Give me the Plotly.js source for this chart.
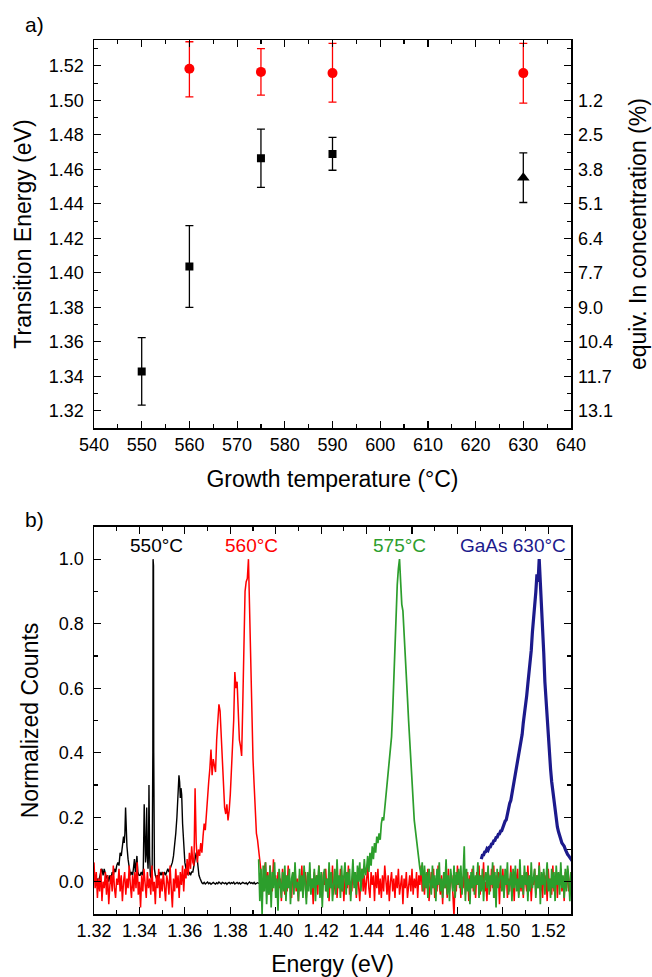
<!DOCTYPE html>
<html>
<head>
<meta charset="utf-8">
<script src="https://cdn.plot.ly/plotly-3.0.1.min.js"></script>
<style>html,body{margin:0;padding:0;background:#fff;}#chart{width:652px;height:977px;}</style>
</head>
<body>
<div id="chart"></div>
<script>
// ---------- Panel a) data ----------
const sqTemp = [550, 560, 575, 590];
const sqEnergy = [1.3428, 1.4037, 1.4664, 1.4689];
const sqErrPlus = [0.0197, 0.0237, 0.0169, 0.0097];
const sqErrMinus = [0.0195, 0.0237, 0.0168, 0.0094];

const triTemp = [630];
const triEnergy = [1.4552];
const triErr = [0.0144];

const gaasTemp = [560, 575, 590, 630];
const gaasEnergy = [1.5183, 1.5165, 1.5158, 1.5158];
const gaasErrPlus = [0.0157, 0.0135, 0.0172, 0.0172];
const gaasErrMinus = [0.0163, 0.0135, 0.0168, 0.0174];

const concTickVals = [1.32, 1.34, 1.36, 1.38, 1.40, 1.42, 1.44, 1.46, 1.48, 1.50, 1.52];
const concTickText = ['13.1', '11.7', '10.4', '9.0', '7.7', '6.4', '5.1', '3.8', '2.5', '1.2', ''];

// ---------- Panel b) data (normalized PL spectra) ----------
// 550°C (explicit energy / counts pairs)
const s550E = [1.3200,1.3205,1.3210,1.3215,1.3220,1.3225,1.3230,1.3235,1.3240,1.3245,1.3250,1.3255,1.3260,1.3265,1.3270,1.3275,1.3280,1.3285,1.3290,1.3295,
 1.3300,1.3305,1.3310,1.3315,1.3320,1.3325,1.3330,1.3333,1.3336,1.3339,1.3342,1.3345,1.3350,1.3355,1.3360,1.3365,1.3370,1.3375,1.3378,1.3382,
 1.3386,1.3389,1.3393,1.3398,1.3403,1.3408,1.3413,1.3417,1.3421,1.3424,1.3427,1.3430,1.3432,1.3435,1.3438,1.3440,1.3442,1.3445,1.3448,1.3452,
 1.3456,1.3459,1.3460,1.3461,1.3462,1.3463,1.3466,1.3470,1.3475,1.3480,1.3485,1.3490,1.3495,1.3500,1.3505,1.3510,1.3515,1.3520,1.3525,1.3530,1.3535,
 1.3540,1.3545,1.3550,1.3555,1.3560,1.3565,1.3570,1.3574,1.3577,1.3580,1.3583,1.3586,1.3590,1.3595,1.3600,1.3605,1.3610,1.3615,1.3620,1.3625,
 1.3630,1.3635,1.3640,1.3645,1.3650,1.3653,1.3657,1.3662,1.3667,1.3672];
const s550Y = [0.00,0.01,-0.01,0.01,0.00,0.02,0.03,0.04,0.02,0.04,0.02,0.01,0.02,0.00,0.02,0.01,0.03,0.02,0.04,0.03,
 0.05,0.06,0.05,0.09,0.08,0.11,0.14,0.12,0.15,0.23,0.14,0.11,0.07,0.04,0.02,0.03,0.02,0.05,0.07,0.03,
 0.05,0.08,0.03,0.02,0.02,0.03,0.02,0.04,0.24,0.12,0.06,0.10,0.23,0.08,0.04,0.10,0.30,0.08,0.02,0.01,
 0.03,0.40,1.00,0.45,0.98,0.40,0.04,0.02,0.01,0.02,0.01,0.03,0.02,0.03,0.02,0.03,0.02,0.03,0.04,0.03,0.04,
 0.05,0.06,0.08,0.11,0.15,0.20,0.27,0.33,0.31,0.26,0.29,0.27,0.18,0.10,0.06,0.04,0.03,0.02,0.03,0.02,
 0.03,0.03,0.05,0.07,0.09,0.08,0.04,0.02,0.01,0.00];
// 550°C flat tail on a regular energy grid
const s550TailStart = 1.3675, s550TailStep = 0.0005;
const s550TailY = [-0.003,-0.006,-0.002,-0.007,-0.004,-0.001,-0.006,-0.003,-0.008,-0.004,
 -0.002,-0.005,-0.007,-0.003,-0.006,-0.001,-0.004,-0.007,-0.002,-0.005,
 -0.006,-0.003,-0.008,-0.004,-0.002,-0.006,-0.003,-0.005,-0.001,-0.007,
 -0.004,-0.002,-0.006,-0.003,-0.007,-0.005,-0.002,-0.004,-0.006,-0.003,
 -0.008,-0.004,-0.001,-0.005,-0.003,-0.006,-0.002,-0.007,-0.004,-0.003,-0.005,-0.004];

// 560°C on a regular energy grid
const s560Start = 1.3200, s560Step = 0.0005;
const s560Y = [
 0.06,-0.02,0.03,-0.05,0.01,-0.03,0.04,-0.06,0.00,-0.02,
 0.03,-0.04,0.02,-0.07,-0.01,0.02,-0.03,0.05,-0.02,-0.05,
 0.01,-0.01,0.04,-0.03,0.02,-0.06,0.00,0.03,-0.04,0.01,
 -0.02,0.05,-0.01,-0.05,0.02,-0.03,0.03,-0.02,0.06,-0.04,
 0.00,-0.08,0.02,-0.03,0.04,-0.01,-0.05,0.03,-0.02,0.01,
 -0.04,0.05,-0.03,0.00,-0.07,0.02,-0.02,0.04,-0.05,0.01,
 -0.03,0.03,-0.01,-0.06,0.02,0.00,-0.04,0.05,-0.02,-0.08,
 0.01,-0.03,0.04,-0.02,0.02,-0.05,0.03,-0.01,0.05,-0.03,
 0.04,0.01,0.07,0.02,0.09,0.04,0.11,0.06,
 0.05,0.29,0.12,0.06,0.10,0.08,0.12,0.09,0.14,0.18,
 0.16,0.22,0.26,0.31,0.35,0.41,0.33,0.38,0.36,0.34,
 0.44,0.51,0.55,0.53,0.45,0.36,0.28,0.23,0.21,0.24,
 0.19,0.22,0.27,0.35,0.40,0.50,0.65,0.60,0.62,0.50,
 0.44,0.42,0.39,0.55,0.72,0.90,0.93,0.94,1.00,0.82,
 0.66,0.50,0.38,0.30,0.20,0.15,0.13,0.10,0.06,0.03,
 0.01,-0.03,0.04,0.06,-0.02,0.03,-0.04,0.05,0.00,-0.03,
 0.07,-0.01,0.02,-0.05,0.03,-0.02,0.01,-0.06,0.04,-0.01,
 -0.04,0.02,-0.03,0.05,-0.02,0.00,-0.05,0.03,-0.01,0.04,
 -0.03,0.01,-0.06,0.02,-0.02,0.05,-0.04,0.00,0.03,-0.05,
 0.02,-0.01,0.04,-0.03,0.01,-0.07,0.03,-0.02,0.02,-0.04,
 0.05,-0.02,0.00,-0.05,0.03,-0.01,0.04,-0.03,0.01,-0.06,
 0.02,-0.02,0.05,-0.04,0.00,0.03,-0.05,0.01,-0.02,0.04,
 -0.03,0.02,-0.06,0.01,0.03,-0.02,0.05,-0.04,0.00,-0.03,
 0.04,-0.01,0.02,-0.05,0.03,-0.02,-0.06,0.01,0.04,-0.03,
 0.02,-0.04,0.00,0.05,-0.02,-0.05,0.03,-0.01,0.02,-0.06,
 0.03,-0.02,0.04,-0.04,0.01,-0.05,0.02,-0.03,0.05,-0.01,
 -0.04,0.02,-0.06,0.00,0.03,-0.03,0.01,-0.05,0.02,-0.02,
 0.04,-0.04,-0.01,0.02,-0.07,0.01,-0.02,0.03,-0.05,0.00,
 0.02,-0.03,0.04,-0.04,0.01,-0.02,0.03,-0.05,0.02,-0.01,
 0.05,-0.03,0.01,-0.04,0.02,-0.02,0.04,-0.06,0.00,0.03,
 -0.02,0.04,-0.05,0.01,-0.03,0.05,-0.01,-0.04,0.02,-0.07,
 0.03,-0.02,0.01,-0.05,0.04,-0.03,0.00,0.02,-0.04,-0.11,
 0.02,-0.03,0.05,-0.01,0.03,-0.05,0.01,-0.02,0.04,-0.04,
 0.00,0.03,-0.06,0.02,-0.02,0.04,-0.03,0.01,-0.05,0.03,
 -0.01,0.05,-0.04,0.02,-0.02,0.06,-0.03,0.00,-0.06,0.03,
 0.01,-0.03,0.04,-0.02,0.05,-0.05,0.02,-0.01,0.03,-0.07,
 0.02,-0.02,0.04,-0.04,0.00,0.03,-0.05,0.01,-0.03,0.05,
 -0.02,0.02,-0.06,0.03,-0.01,0.04,-0.04,0.01,-0.03,0.02,
 -0.05,0.03,0.00,-0.03,0.05,-0.02,0.02,-0.06,0.01,-0.01,
 0.04,-0.04,0.02,-0.02,0.06,-0.03,0.00,-0.05,0.03,-0.01,
 0.02,-0.06,0.04,-0.02,0.01,-0.04,0.05,-0.03,0.00,0.03,
 -0.05,0.02,-0.01,0.04,-0.03,0.01,-0.06,0.03,-0.02,0.04,
 -0.03,0.01,0.03,-0.04,0.02,0.00];

// 575°C on a regular energy grid
const s575Start = 1.3925, s575Step = 0.0005;
const s575Y = [
 0.07,-0.06,0.04,-0.10,0.05,-0.03,0.06,-0.07,0.02,-0.04,
 0.05,-0.08,0.03,-0.02,0.06,-0.05,0.01,-0.09,0.04,-0.01,
 -0.05,0.03,-0.03,0.05,-0.06,0.02,-0.02,0.04,-0.07,0.01,
 0.03,-0.04,0.06,-0.02,0.00,-0.06,0.04,-0.03,0.02,-0.05,
 0.05,-0.01,-0.07,0.03,-0.03,0.06,-0.04,0.01,-0.02,0.04,
 -0.06,0.02,-0.01,0.05,-0.05,0.03,-0.08,0.02,0.04,-0.03,
 0.01,-0.05,0.06,-0.02,0.03,-0.06,0.00,0.04,-0.04,0.07,
 -0.02,0.02,-0.05,0.05,-0.03,0.01,0.06,-0.04,0.03,-0.01,
 0.04,-0.06,0.02,0.07,-0.02,0.03,-0.04,0.05,0.00,0.06,
 -0.03,0.04,0.01,0.07,0.02,
 0.04,0.08,0.03,0.09,0.05,0.11,0.07,0.12,0.09,0.14,
 0.12,0.15,0.13,0.18,0.20,0.19,0.23,0.27,0.31,0.35,
 0.38,0.42,0.45,0.53,0.63,0.74,0.86,0.92,0.97,1.00,
 0.93,0.86,0.84,0.78,0.72,0.65,0.57,0.50,0.44,0.35,
 0.29,0.23,0.19,0.16,0.13,0.09,0.07,0.04,
 0.02,0.06,-0.03,0.05,-0.02,0.03,-0.05,0.04,0.00,-0.04,
 0.05,-0.02,0.02,-0.06,0.04,-0.01,0.06,-0.03,0.01,-0.05,
 0.03,-0.02,0.07,-0.04,0.02,-0.06,0.04,0.00,-0.03,0.05,
 -0.05,0.03,-0.01,0.04,-0.02,0.05,-0.04,0.02,0.11,-0.06,
 0.04,-0.03,0.01,-0.07,0.03,-0.02,0.05,-0.04,0.02,-0.01,
 0.06,-0.05,0.02,-0.03,0.04,-0.06,0.01,0.03,-0.02,0.05,
 -0.04,0.02,-0.01,0.06,-0.05,0.03,-0.08,0.04,-0.02,0.01,
 0.05,-0.03,0.02,-0.05,0.04,-0.01,0.06,-0.04,0.00,0.03,
 -0.06,0.04,-0.02,0.05,-0.03,0.01,-0.05,0.07,-0.02,0.02,
 -0.04,0.05,-0.01,0.03,-0.06,0.02,-0.03,0.06,-0.02,0.01,
 0.04,-0.05,0.02,-0.02,0.05,-0.07,0.03,-0.01,0.04,-0.04,
 0.02,0.06,-0.03,0.01,-0.05,0.04,-0.02,0.03,-0.06,0.05,
 -0.01,0.03,-0.04,0.06,-0.02,0.02,-0.05,0.04,-0.03,0.05,
 0.01,-0.06,0.03,0.00];

// GaAs 630°C on a regular energy grid
const s630Start = 1.4905, s630Step = 0.0005;
const s630Y = [0.070,0.082,0.083,0.092,0.093,0.102,0.098,0.107,0.108,0.117,
 0.118,0.127,0.128,0.137,0.138,0.147,0.148,0.157,0.158,0.169,
 0.173,0.188,0.192,0.213,0.222,0.243,0.252,0.273,0.287,0.313,
 0.327,0.353,0.367,0.393,0.407,0.433,0.457,0.493,0.517,0.553,
 0.577,0.613,0.647,0.683,0.717,0.773,0.807,0.863,0.897,0.953,
 0.930,1.000,0.930,0.880,0.800,0.710,0.620,0.560,0.500,0.450,
 0.390,0.350,0.310,0.280,0.250,0.220,0.190,0.170,0.155,0.140,
 0.130,0.120,0.115,0.110,0.100,0.090,0.085,0.080,0.075,0.070,0.065];

function grid(start, step, n) {
  const out = [];
  for (let i = 0; i < n; i++) out.push(+(start + i * step).toFixed(5));
  return out;
}

const FONT = 'Liberation Sans, Arial, sans-serif';
const RED = '#ff0000', GREEN = '#2c9e2c', NAVY = '#1c1a8c';

const traces = [
  { x: gaasTemp, y: gaasEnergy, xaxis: 'x', yaxis: 'y', type: 'scatter', mode: 'markers',
    marker: { symbol: 'circle', size: 10, color: RED },
    error_y: { type: 'data', symmetric: false, array: gaasErrPlus, arrayminus: gaasErrMinus, color: RED, thickness: 1.3, width: 4 } },
  { x: sqTemp, y: sqEnergy, xaxis: 'x', yaxis: 'y', type: 'scatter', mode: 'markers',
    marker: { symbol: 'square', size: 8, color: '#000' },
    error_y: { type: 'data', symmetric: false, array: sqErrPlus, arrayminus: sqErrMinus, color: '#000', thickness: 1.3, width: 4 } },
  { x: triTemp, y: triEnergy, xaxis: 'x', yaxis: 'y', type: 'scatter', mode: 'markers',
    marker: { symbol: 'triangle-up', size: 11, color: '#000' },
    error_y: { type: 'data', array: triErr, color: '#000', thickness: 1.3, width: 4 } },
  { x: gaasTemp, y: gaasEnergy, xaxis: 'x', yaxis: 'y2', type: 'scatter', mode: 'markers',
    marker: { size: 10, color: 'rgba(0,0,0,0)' }, hoverinfo: 'skip' },
  { x: s550E.concat(grid(s550TailStart, s550TailStep, s550TailY.length)), y: s550Y.concat(s550TailY),
    xaxis: 'x2', yaxis: 'y3', type: 'scatter', mode: 'lines', line: { color: '#000', width: 1.4 } },
  { x: grid(s560Start, s560Step, s560Y.length), y: s560Y,
    xaxis: 'x2', yaxis: 'y3', type: 'scatter', mode: 'lines', line: { color: RED, width: 1.5 } },
  { x: grid(s575Start, s575Step, s575Y.length), y: s575Y,
    xaxis: 'x2', yaxis: 'y3', type: 'scatter', mode: 'lines', line: { color: GREEN, width: 1.7 } },
  { x: grid(s630Start, s630Step, s630Y.length), y: s630Y,
    xaxis: 'x2', yaxis: 'y3', type: 'scatter', mode: 'lines', line: { color: NAVY, width: 3.2 } }
];

const axCommon = {
  showline: true, linewidth: 1.5, linecolor: '#000', showgrid: false, zeroline: false,
  ticks: 'inside', ticklen: 7, tickwidth: 1.2, tickcolor: '#000', automargin: false,
  tickfont: { family: FONT, size: 18, color: '#000' }
};
const minorCommon = { ticks: 'inside', ticklen: 4, tickwidth: 1.2, tickcolor: '#000', showgrid: false };
const titleFont = { family: FONT, size: 23, color: '#000' };

const layout = {
  width: 652, height: 977,
  margin: { l: 94, r: 81, t: 40, b: 63 },
  paper_bgcolor: '#fff', plot_bgcolor: '#fff',
  showlegend: false,
  font: { family: FONT, size: 18, color: '#000' },
  xaxis: Object.assign({}, axCommon, {
    domain: [0, 1], anchor: 'y', range: [540, 640], tick0: 540, dtick: 10, mirror: 'ticks',
    minor: Object.assign({}, minorCommon, { dtick: 5 }),
    title: { text: 'Growth temperature (°C)', font: titleFont, standoff: 16 }
  }),
  yaxis: Object.assign({}, axCommon, {
    domain: [0.5559, 1], anchor: 'x', range: [1.31, 1.535], tick0: 1.32, dtick: 0.02, tickformat: '.2f', mirror: true,
    ticklabelstandoff: 5,
    minor: Object.assign({}, minorCommon, { dtick: 0.01, tick0: 1.31 }),
    title: { text: 'Transition Energy (eV)', font: titleFont, standoff: 11 }
  }),
  yaxis2: Object.assign({}, axCommon, {
    overlaying: 'y', side: 'right', anchor: 'x', range: [1.31, 1.535],
    tickmode: 'array', tickvals: concTickVals, ticktext: concTickText, ticklabelstandoff: 2,
    minor: Object.assign({}, minorCommon, { dtick: 0.01, tick0: 1.31 }),
    title: { text: 'equiv. In concentration (%)', font: titleFont, standoff: 18 }
  }),
  xaxis2: Object.assign({}, axCommon, {
    domain: [0, 1], anchor: 'y3', range: [1.32, 1.53], tick0: 1.32, dtick: 0.02, tickformat: '.2f', mirror: 'ticks',
    minor: Object.assign({}, minorCommon, { dtick: 0.01, tick0: 1.32 }),
    title: { text: 'Energy (eV)', font: titleFont, standoff: 16 }
  }),
  yaxis3: Object.assign({}, axCommon, {
    domain: [0, 0.4429], anchor: 'x2', range: [-0.1, 1.1], tick0: 0, dtick: 0.2, tickformat: '.1f', mirror: 'ticks',
    ticklabelstandoff: 5,
    minor: Object.assign({}, minorCommon, { dtick: 0.1, tick0: 0 }),
    title: { text: 'Normalized Counts', font: titleFont, standoff: 14 }
  }),
  annotations: [
    { text: 'a)', xref: 'paper', yref: 'paper', x: -0.1237, y: 1.0183, showarrow: false, xanchor: 'center', yanchor: 'middle', font: { family: FONT, size: 21 } },
    { text: 'b)', xref: 'paper', yref: 'paper', x: -0.1237, y: 0.4518, showarrow: false, xanchor: 'center', yanchor: 'middle', font: { family: FONT, size: 21 } },
    { text: '550°C', xref: 'x2', yref: 'y3', x: 1.3476, y: 1.043, showarrow: false, font: { family: FONT, size: 19, color: '#000' } },
    { text: '560°C', xref: 'x2', yref: 'y3', x: 1.3894, y: 1.043, showarrow: false, font: { family: FONT, size: 19, color: RED } },
    { text: '575°C', xref: 'x2', yref: 'y3', x: 1.4547, y: 1.043, showarrow: false, font: { family: FONT, size: 19, color: GREEN } },
    { text: 'GaAs 630°C', xref: 'x2', yref: 'y3', x: 1.5046, y: 1.043, showarrow: false, font: { family: FONT, size: 19, color: NAVY } }
  ]
};

Plotly.newPlot('chart', traces, layout, { staticPlot: true, displayModeBar: false });
</script>
</body>
</html>
